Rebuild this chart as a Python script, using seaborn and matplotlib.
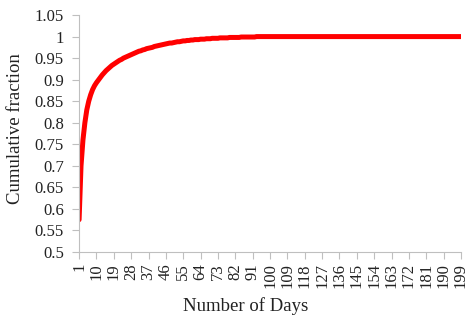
import numpy as np
import pandas as pd
import matplotlib
matplotlib.use("Agg")
import matplotlib.pyplot as plt
import seaborn as sns

# cumulative fraction for days 1..100, plateau at 1 afterwards
frac_first = [
    0.575, 0.700, 0.760, 0.800, 0.830, 0.850, 0.865, 0.877, 0.886, 0.893,
    0.899, 0.905, 0.911, 0.916, 0.921, 0.925, 0.929, 0.933, 0.936, 0.939,
    0.942, 0.945, 0.947, 0.950, 0.952, 0.954, 0.956, 0.958, 0.960, 0.962,
    0.964, 0.966, 0.967, 0.969, 0.970, 0.972, 0.973, 0.974, 0.975, 0.977,
    0.978, 0.979, 0.980, 0.981, 0.982, 0.983, 0.984, 0.985, 0.985, 0.986,
    0.987, 0.988, 0.988, 0.989, 0.990, 0.990, 0.991, 0.991, 0.992, 0.992,
    0.993, 0.993, 0.993, 0.994, 0.994, 0.994, 0.995, 0.995, 0.995, 0.996,
    0.996, 0.996, 0.996, 0.997, 0.997, 0.997, 0.997, 0.997, 0.998, 0.998,
    0.998, 0.998, 0.998, 0.998, 0.999, 0.999, 0.999, 0.999, 0.999, 0.999,
    0.999, 0.999, 1.000, 1.000, 1.000, 1.000, 1.000, 1.000, 1.000, 1.000,
]
frac_rest = [1.0] * 99
cum_frac = frac_first + frac_rest
days = list(range(1, 200))

x_ticks = list(range(1, 200, 9))
y_ticks = [0.5, 0.55, 0.6, 0.65, 0.7, 0.75, 0.8, 0.85, 0.9, 0.95, 1.0, 1.05]

df = pd.DataFrame({"day": days, "frac": cum_frac})

sns.set_style("ticks")
plt.rcParams['font.family'] = ['Liberation Serif', 'DejaVu Serif']

fig = plt.figure(figsize=(4.68, 3.2), dpi=100)
ax = fig.add_axes([0.169, 0.2125, 0.816, 0.7405])

sns.lineplot(data=df, x="day", y="frac", color="#ff0000", linewidth=3.6, ax=ax)

ax.set_xlim(1, 199)
ax.set_ylim(0.5, 1.05)
ax.set_xticks(x_ticks)
ax.set_xticklabels([str(t) for t in x_ticks], rotation=90)
ax.set_yticks(y_ticks)
ax.set_yticklabels([f"{v:g}" for v in y_ticks])
ax.tick_params(axis="both", labelsize=12, colors="#bfbfbf", labelcolor="#222222",
               length=5, width=0.8)
ax.tick_params(axis="y", pad=6)
ax.tick_params(axis="x", pad=3)

for s in ["top", "right"]:
    ax.spines[s].set_visible(False)
for s in ["left", "bottom"]:
    ax.spines[s].set_color("#bfbfbf")
    ax.spines[s].set_linewidth(0.8)

ax.set_xlabel("Number of Days", fontsize=13.5, color="#222222")
ax.set_ylabel("Cumulative fraction", fontsize=13.5, color="#222222")
ax.xaxis.set_label_coords(0.436, -0.192)
ax.yaxis.set_label_coords(-0.143, 0.52)

fig.savefig("out.png", dpi=100)
